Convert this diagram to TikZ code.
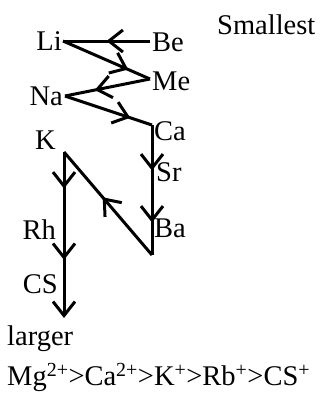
\documentclass[tikz,border=0pt]{standalone}
\usepackage{fontspec}
\setmainfont{Liberation Serif}
\usetikzlibrary{arrows.meta,decorations.markings}
\tikzset{
  lbl/.style={inner sep=0pt,font=\fontsize{28.5}{30}\selectfont},
  ln/.style={line width=3pt,line join=miter},
  midarrow/.style={postaction={decorate,decoration={markings,
     mark=at position #1 with {\arrow{Straight Barb[length=14pt,width=22pt,line width=3pt]}}}}},
  endarrow/.style={-{Straight Barb[length=14pt,width=22pt,line width=3pt]}}
}
\begin{document}
\begin{tikzpicture}[x=1pt,y=-1pt]
\useasboundingbox (0,0) rectangle (323,394);
% labels
\node[lbl,anchor=east] (Li) at (62,41) {Li};
\node[lbl,anchor=west] (Be) at (152,42) {Be};
\node[lbl,anchor=west] (Me) at (152,81) {Me};
\node[lbl,anchor=east] (Na) at (63,96) {Na};
\node[lbl,anchor=west] (Ca) at (154,131) {Ca};
\node[lbl,anchor=west] (Sr) at (156,172) {Sr};
\node[lbl,anchor=west] (Ba) at (154,228) {Ba};
\node[lbl,anchor=east] (K) at (56,140) {K};
\node[lbl,anchor=east] (Rh) at (56,230) {Rh};
\node[lbl,anchor=east] (CS) at (58,284) {CS};
\node[lbl,anchor=west] (sm) at (217,25) {Smallest};
\node[lbl,anchor=west] (lg) at (7,339) {larger};
\node[lbl,anchor=west] (eq) at (7,377) {Mg\textsuperscript{2+}>Ca\textsuperscript{2+}>K\textsuperscript{+}>Rb\textsuperscript{+}>CS\textsuperscript{+}};
% vertices
\coordinate (vLi) at (63,41);
\coordinate (vBe) at (150,41);
\coordinate (vMe) at (150,79);
\coordinate (vNa) at (65,96);
\coordinate (vCa) at (152,125);
\coordinate (vBa) at (152,255);
\coordinate (vK) at (64,152);
\coordinate (vEnd) at (64,318);
% connectors
\draw[ln,midarrow=0.5] (vBe) -- (vLi);
\draw[ln,midarrow=0.75] (vLi) -- (vMe);
\draw[ln,midarrow=0.65] (vMe) -- (vNa);
\draw[ln,midarrow=0.75] (vNa) -- (vCa);
\draw[ln,midarrow=0.35,midarrow=0.75] (vCa) -- (vBa);
\draw[ln,midarrow=0.56] (vBa) -- (vK);
\draw[ln,midarrow=0.22,midarrow=0.65,endarrow] (vK) -- (vEnd);
\end{tikzpicture}
\end{document}
